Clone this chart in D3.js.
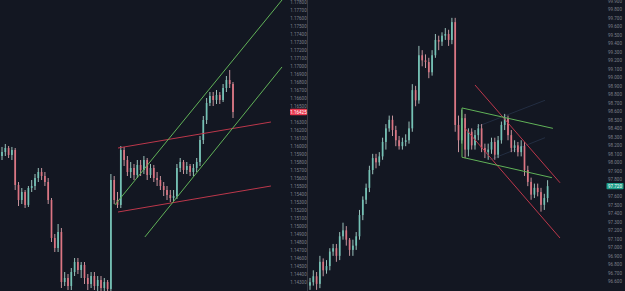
<!DOCTYPE html>
<html><head><meta charset="utf-8">
<script src="https://cdn.jsdelivr.net/npm/d3@7"></script>
<style>html,body{margin:0;padding:0;background:#131722;overflow:hidden}</style>
</head><body><svg id="c" width="625" height="291"></svg>
<script>
// ---------- DATA ----------
// Left panel (EURUSD-like) candles: [open, high, low, close]
const leftCandles = [
[1.15875,1.15988,1.15825,1.15925],[1.15925,1.16025,1.15875,1.15975],[1.15975,1.16000,1.15850,1.15888],[1.15888,1.15988,1.15825,1.15950],
[1.15950,1.15975,1.15450,1.15513],[1.15513,1.15550,1.15250,1.15325],[1.15325,1.15475,1.15275,1.15425],[1.15425,1.15450,1.15225,1.15263],
[1.15263,1.15500,1.15238,1.15475],[1.15475,1.15575,1.15425,1.15500],[1.15500,1.15650,1.15450,1.15600],[1.15600,1.15725,1.15550,1.15675],
[1.15675,1.15725,1.15575,1.15625],[1.15625,1.15675,1.15500,1.15550],[1.15550,1.15600,1.15275,1.15325],[1.15325,1.15350,1.14800,1.14850],
[1.14850,1.14900,1.14675,1.14725],[1.14725,1.15025,1.14675,1.14925],[1.14925,1.14975,1.14225,1.14300],[1.14300,1.14425,1.14250,1.14350],
[1.14350,1.14400,1.14200,1.14250],[1.14250,1.14475,1.14200,1.14425],[1.14425,1.14600,1.14375,1.14550],[1.14550,1.14600,1.14400,1.14450],
[1.14450,1.14550,1.14350,1.14513],[1.14513,1.14550,1.14275,1.14350],[1.14350,1.14400,1.14200,1.14275],[1.14275,1.14425,1.14225,1.14375],
[1.14375,1.14425,1.14200,1.14250],[1.14250,1.14375,1.14188,1.14325],[1.14325,1.14375,1.14175,1.14225],[1.14225,1.14350,1.14175,1.14300],
[1.14300,1.14325,1.14175,1.14213],[1.14213,1.15650,1.14175,1.15575],[1.15575,1.15625,1.15275,1.15325],[1.15325,1.15425,1.15225,1.15263],
[1.15263,1.16000,1.15225,1.15950],[1.15950,1.15988,1.15750,1.15825],[1.15825,1.15875,1.15625,1.15675],[1.15675,1.15800,1.15600,1.15725],
[1.15725,1.15775,1.15575,1.15638],[1.15638,1.15825,1.15600,1.15763],[1.15763,1.15825,1.15625,1.15700],[1.15700,1.15875,1.15650,1.15825],
[1.15825,1.15850,1.15575,1.15638],[1.15638,1.15775,1.15600,1.15725],[1.15725,1.15763,1.15550,1.15600],[1.15600,1.15675,1.15500,1.15575],
[1.15575,1.15625,1.15450,1.15500],[1.15500,1.15550,1.15375,1.15450],[1.15450,1.15500,1.15325,1.15388],[1.15388,1.15450,1.15300,1.15350],
[1.15350,1.15450,1.15313,1.15375],[1.15375,1.15775,1.15338,1.15725],[1.15725,1.15850,1.15675,1.15800],[1.15800,1.15825,1.15650,1.15700],
[1.15700,1.15800,1.15650,1.15750],[1.15750,1.15775,1.15625,1.15675],[1.15675,1.15775,1.15625,1.15725],[1.15725,1.15850,1.15675,1.15800],
[1.15800,1.16125,1.15750,1.16075],[1.16075,1.16375,1.16025,1.16325],[1.16325,1.16600,1.16275,1.16538],[1.16538,1.16675,1.16500,1.16625],
[1.16625,1.16675,1.16500,1.16575],[1.16575,1.16700,1.16525,1.16638],[1.16638,1.16675,1.16525,1.16575],[1.16575,1.16775,1.16550,1.16725],
[1.16725,1.16875,1.16675,1.16825],[1.16825,1.16950,1.16725,1.16775],[1.16775,1.16800,1.16350,1.16425]
];
// Right panel (DXY-like) candles: [open, high, low, close]
const rightCandles = [
[96.55,96.64,96.50,96.59],[96.59,96.73,96.55,96.66],[96.66,96.71,96.50,96.57],[96.57,96.90,96.52,96.83],
[96.83,96.87,96.66,96.73],[96.73,96.85,96.69,96.78],[96.78,96.99,96.73,96.95],[96.95,97.04,96.90,96.99],
[96.99,97.04,96.83,96.90],[96.90,97.18,96.85,97.13],[97.13,97.29,97.09,97.20],[97.20,97.25,97.02,97.09],
[97.09,97.11,96.90,96.97],[96.97,97.09,96.90,97.02],[97.02,97.18,96.97,97.13],[97.13,97.44,97.09,97.38],
[97.38,97.60,97.32,97.56],[97.56,97.75,97.51,97.70],[97.70,97.96,97.65,97.91],[97.91,98.10,97.86,98.05],
[98.05,98.10,97.93,98.00],[98.00,98.12,97.96,98.07],[98.07,98.29,98.03,98.24],[98.24,98.45,98.15,98.40],
[98.40,98.55,98.36,98.50],[98.50,98.55,98.31,98.38],[98.38,98.43,98.19,98.26],[98.26,98.31,98.15,98.19],
[98.19,98.29,98.15,98.24],[98.24,98.33,98.19,98.26],[98.26,98.48,98.22,98.40],[98.40,98.92,98.36,98.85],
[98.85,98.90,98.66,98.73],[98.73,99.37,98.69,99.26],[99.26,99.32,99.13,99.20],[99.20,99.27,99.11,99.18],
[99.18,99.23,98.99,99.06],[99.06,99.32,99.02,99.26],[99.26,99.51,99.23,99.44],[99.44,99.49,99.32,99.42],
[99.42,99.53,99.37,99.49],[99.49,99.58,99.44,99.51],[99.51,99.56,99.37,99.44],[99.44,99.70,99.39,99.65],
[99.65,99.70,98.36,98.44],[98.44,98.55,98.12,98.26],[98.26,98.62,98.22,98.52],[98.52,98.57,98.05,98.15],
[98.15,98.40,98.07,98.36],[98.36,98.40,98.15,98.20],[98.20,98.38,98.15,98.32],[98.32,98.45,98.26,98.40],
[98.40,98.45,98.12,98.17],[98.17,98.22,98.05,98.12],[98.12,98.22,98.03,98.15],[98.15,98.29,98.10,98.24],
[98.24,98.29,98.03,98.09],[98.09,98.31,98.05,98.26],[98.26,98.48,98.22,98.44],[98.44,98.57,98.38,98.52],
[98.52,98.55,98.26,98.32],[98.32,98.38,98.12,98.17],[98.17,98.26,98.12,98.20],[98.20,98.24,98.07,98.12],
[98.12,98.26,98.07,98.19],[98.19,98.24,97.84,97.91],[97.91,97.96,97.72,97.77],[97.77,97.82,97.56,97.62],
[97.62,97.75,97.58,97.70],[97.70,97.75,97.60,97.65],[97.65,97.70,97.42,97.50],[97.50,97.63,97.44,97.58],
[97.58,97.79,97.53,97.72]
];
// Axis tick labels
const leftTicks = [1.178,1.177,1.176,1.175,1.174,1.173,1.172,1.171,1.170,1.169,1.168,1.167,1.166,1.165,1.164,1.163,1.162,1.161,1.160,
  1.159,1.158,1.157,1.156,1.155,1.154,1.153,1.152,1.151,1.150,1.149,1.148,1.147,1.146,1.145,1.144,1.143];
const rightTicks = [99.9,99.8,99.7,99.6,99.5,99.4,99.3,99.2,99.1,99.0,98.9,98.8,98.7,98.6,98.5,98.4,98.3,98.2,98.1,98.0,
  97.9,97.8,97.7,97.6,97.5,97.4,97.3,97.2,97.1,97.0,96.9,96.8,96.7,96.6];
const leftLast = 1.16425;
const rightLast = 97.72;
// Drawn trend lines: [[barIndex, price],[barIndex, price]]
const leftGreenLines = [[[34.2,1.15263],[84.85,1.17825]], [[43.3,1.14863],[84.85,1.16988]]];
const leftRedLines = [[[35.15,1.15975],[81.5,1.16300]], [[35.15,1.15175],[81.5,1.15500]]];
const rightGreenLines = [[[46.06,98.64],[73.6,98.40]], [[46.06,98.06],[73.3,97.82]], [[46.06,98.64],[46.06,98.06]]];
const rightRedLines = [[[50,98.91],[75.76,97.76]], [[47,98.40],[75.76,97.11]]];
const rightFaintLines = [[[50.6,98.42],[71.2,98.73]], [[54.5,98.03],[71.2,98.29]]];

// ---------- DRAW ----------
const svg = d3.select('#c');
const W = 625, H = 291;
svg.append('rect').attr('width', W).attr('height', H).attr('fill', '#131722');

const UP = '#74c2b5', DOWN = '#dc7583', WICK_UP = '#a9d5cc', WICK_DN = '#d9a1aa';

const lx = d3.scaleLinear().domain([0, 70]).range([2, 233]);
const ly = d3.scaleLinear().domain([1.14175, 1.17825]).range([292, 0]);
const rx = d3.scaleLinear().domain([0, 72]).range([310, 547.6]);
const ry = d3.scaleLinear().domain([99.91 - 291/85, 99.91]).range([291, 0]);

const defs = svg.append('defs');
defs.append('clipPath').attr('id', 'clipL').append('rect').attr('x', 0).attr('y', 0).attr('width', 286).attr('height', H);
defs.append('clipPath').attr('id', 'clipR').append('rect').attr('x', 308).attr('y', 0).attr('width', 293).attr('height', H);

function drawCandles(g, data, x, y) {
  const up = d => d[3] >= d[0];
  g.selectAll('line.wick').data(data).join('line').attr('class', 'wick')
    .attr('x1', (d, i) => x(i)).attr('x2', (d, i) => x(i))
    .attr('y1', d => y(d[1])).attr('y2', d => y(d[2]))
    .attr('stroke', d => up(d) ? WICK_UP : WICK_DN).attr('stroke-width', 0.9);
  g.selectAll('rect.body').data(data).join('rect').attr('class', 'body')
    .attr('x', (d, i) => x(i) - 0.85)
    .attr('width', 1.7)
    .attr('y', d => y(Math.max(d[0], d[3])))
    .attr('height', d => Math.max(1, Math.abs(y(d[0]) - y(d[3]))))
    .attr('fill', d => up(d) ? UP : DOWN);
}
function drawLines(g, lines, x, y, color, width, op) {
  g.selectAll(null).data(lines).join('line')
    .attr('x1', d => x(d[0][0])).attr('y1', d => y(d[0][1]))
    .attr('x2', d => x(d[1][0])).attr('y2', d => y(d[1][1]))
    .attr('stroke', color).attr('stroke-width', width).attr('opacity', op);
}

const gL = svg.append('g').attr('clip-path', 'url(#clipL)');
drawCandles(gL, leftCandles, lx, ly);
drawLines(gL, leftRedLines, lx, ly, '#c63a4e', 1, 0.95);
drawLines(gL, leftGreenLines, lx, ly, '#66bb5c', 1, 0.95);

const gR = svg.append('g').attr('clip-path', 'url(#clipR)');
drawLines(gR, rightFaintLines, rx, ry, '#27344a', 0.8, 1);
drawCandles(gR, rightCandles, rx, ry);
drawLines(gR, rightRedLines, rx, ry, '#c63a4e', 1, 0.95);
drawLines(gR, rightGreenLines, rx, ry, '#66bb5c', 1, 0.95);

// separator between panels
svg.append('line').attr('x1', 307.5).attr('x2', 307.5).attr('y1', 0).attr('y2', H)
  .attr('stroke', '#363a45').attr('stroke-width', 1);

// axes
function drawAxis(xPos, scale, ticks, fmt, lastVal, lastColor) {
  const lastY = scale(lastVal);
  const shown = ticks.filter(t => Math.abs(scale(t) - lastY) > 5);
  const ax = d3.axisRight(scale).tickValues(shown).tickSize(0).tickPadding(0).tickFormat(d3.format(fmt));
  const g = svg.append('g').attr('transform', `translate(${xPos},0)`).call(ax);
  g.select('.domain').remove();
  g.selectAll('text').attr('fill', '#7d808b').attr('font-size', '4.5px')
    .attr('font-family', 'Roboto, "DejaVu Sans", sans-serif').attr('text-anchor', 'middle').attr('x', 0);
  const lg = svg.append('g');
  lg.append('rect').attr('x', xPos - 8.5).attr('y', lastY - 3.2).attr('width', 17).attr('height', 6.4)
    .attr('fill', lastColor).attr('rx', 0.8);
  lg.append('text').attr('x', xPos).attr('y', lastY).attr('dy', '0.35em')
    .attr('text-anchor', 'middle').attr('fill', '#ffffff').attr('font-size', '4.5px')
    .attr('font-family', 'Roboto, "DejaVu Sans", sans-serif').text(d3.format(fmt)(lastVal));
}
drawAxis(298.5, ly, leftTicks, '.5f', leftLast, '#e8394f');
drawAxis(615, ry, rightTicks, '.3f', rightLast, '#1f9e89');
</script>
</body></html>
